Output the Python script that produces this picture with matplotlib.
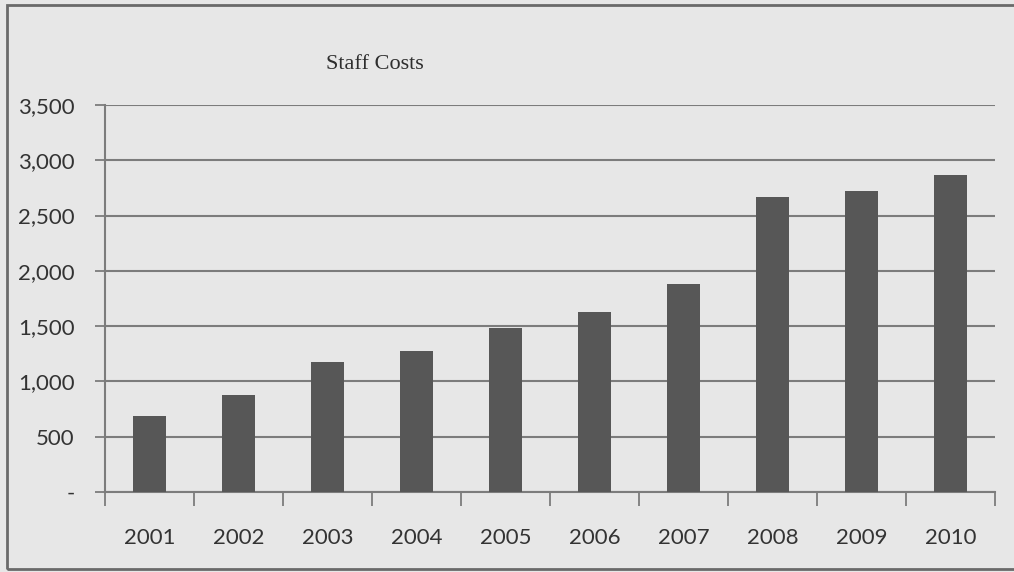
import matplotlib.pyplot as plt
import matplotlib.patches as mpatches
import numpy as np

years = ["2001", "2002", "2003", "2004", "2005", "2006", "2007", "2008", "2009", "2010"]
staff_costs = [690, 880, 1180, 1275, 1480, 1630, 1880, 2670, 2725, 2870]
y_ticks = [0, 500, 1000, 1500, 2000, 2500, 3000, 3500]
y_labels = ["-", "500", "1,000", "1,500", "2,000", "2,500", "3,000", "3,500"]

plt.rcParams['font.family'] = ['Lato', 'DejaVu Sans']
bg = "#e7e7e7"
grid_col = "#7c7c7c"

fig = plt.figure(figsize=(10.14, 5.72), dpi=100, facecolor=bg)
ax = fig.add_axes([0.1036, 0.1399, 0.8777, 0.6765])
ax.set_facecolor(bg)

x = np.arange(len(years))
ax.bar(x, staff_costs, width=0.38, color="#575757", zorder=3)

ax.set_ylim(0, 3500)
ax.set_xlim(-0.5, len(years) - 0.5)
ax.set_yticks(y_ticks)
ax.set_yticklabels(y_labels)
ax.set_xticks(x)
ax.set_xticklabels(years)
ax.set_xticks(np.arange(-0.5, len(years)), minor=True)

ax.grid(axis="y", color=grid_col, linewidth=1.5, zorder=0)
ax.tick_params(axis="y", which="major", length=7, width=1.3, color=grid_col,
               labelsize=16, labelcolor="#333333", pad=15)
ax.tick_params(axis="x", which="major", length=0, labelsize=16,
               labelcolor="#333333", pad=26)
ax.tick_params(axis="x", which="minor", length=10, width=1.3, color=grid_col)

for side in ["top", "right"]:
    ax.spines[side].set_visible(False)
for side in ["left", "bottom"]:
    ax.spines[side].set_color(grid_col)
    ax.spines[side].set_linewidth(1.5)

fig.text(0.37, 0.888, "Staff Costs", ha="center", va="center",
         fontsize=16, family="Liberation Serif", color="#2e2e2e")

# outer chart frame
frame = mpatches.Rectangle((7 / 1014, 3 / 572), 1.1, 1 - 8 / 572,
                           transform=fig.transFigure, fill=False,
                           edgecolor="#6a6a6a", linewidth=2)
fig.patches.append(frame)

fig.savefig("out.png", dpi=100, facecolor=bg)
